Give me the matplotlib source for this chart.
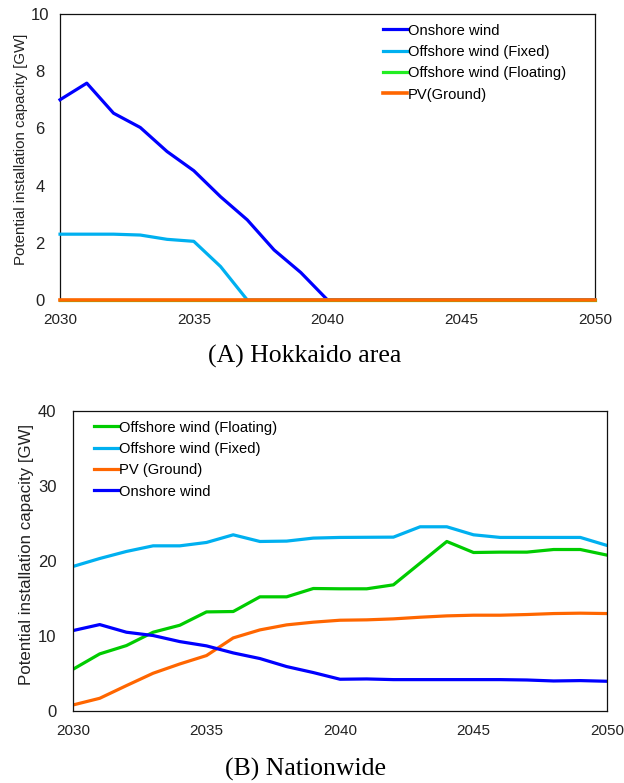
import numpy as np
import matplotlib
matplotlib.use("Agg")
from matplotlib import pyplot as plt

plt.rcParams['font.family'] = ['Liberation Sans', 'DejaVu Sans']

years = np.arange(2030, 2051)

# (A) Hokkaido area, GW
hok_onshore = [7.0, 7.58, 6.53, 6.03, 5.19, 4.52, 3.61, 2.80, 1.75, 0.96, 0.0,
               0, 0, 0, 0, 0, 0, 0, 0, 0, 0]
hok_fixed = [2.30, 2.30, 2.30, 2.27, 2.12, 2.05, 1.17, 0.0, 0, 0, 0,
             0, 0, 0, 0, 0, 0, 0, 0, 0, 0]
hok_floating = [0.0] * 21
hok_pv = [0.0] * 21

# (B) Nationwide, GW
nat_floating = [5.56, 7.61, 8.72, 10.5, 11.43, 13.21, 13.26, 15.22, 15.22, 16.33, 16.29,
                16.29, 16.82, 19.71, 22.6, 21.13, 21.18, 21.18, 21.53, 21.53, 20.78]
nat_fixed = [19.27, 20.33, 21.27, 22.02, 22.02, 22.47, 23.49, 22.60, 22.65, 23.05, 23.14,
             23.16, 23.18, 24.56, 24.56, 23.49, 23.14, 23.14, 23.14, 23.14, 22.07]
nat_pv = [0.8, 1.69, 3.38, 5.03, 6.27, 7.39, 9.74, 10.81, 11.48, 11.84, 12.10,
          12.15, 12.28, 12.50, 12.68, 12.77, 12.77, 12.86, 12.99, 13.04, 12.99]
nat_onshore = [10.72, 11.52, 10.50, 10.06, 9.25, 8.68, 7.74, 6.99, 5.92, 5.12, 4.23,
               4.27, 4.18, 4.18, 4.18, 4.18, 4.18, 4.13, 4.0, 4.05, 3.96]

BLUE = '#0000FF'
LIGHTBLUE = '#00B0F0'
GREEN_A = '#22EE22'
GREEN_B = '#00CC00'
ORANGE = '#FF6600'
LW = 2.3
FS = 10.6

fig = plt.figure(figsize=(6.24, 7.83), dpi=100)


def style_axes(ax, ymax, ystep, yha, ylab_fs, ylab_y, ylab_pad):
    ax.set_xlim(2030, 2050)
    ax.set_ylim(0, ymax)
    ax.set_xticks(range(2030, 2051, 5))
    ax.set_yticks(range(0, ymax + 1, ystep))
    ax.tick_params(length=0, labelsize=11, colors='#222222')
    ax.tick_params(axis='x', pad=9.5)
    ax.tick_params(axis='y', labelsize=12)
    for lab in ax.get_yticklabels():
        lab.set_horizontalalignment(yha)
    for sp in ax.spines.values():
        sp.set_linewidth(0.9)
        sp.set_color('#111111')
    ax.set_ylabel('Potential installation capacity [GW]', fontsize=ylab_fs,
                  color='#222222', labelpad=ylab_pad, y=ylab_y)


def add_legend(ax, x0):
    ax.legend(loc='upper left', bbox_to_anchor=(x0, 1.0), frameon=False,
              fontsize=FS, handlelength=1.65, handletextpad=0.05,
              labelspacing=0.5, borderaxespad=0.25)


# --- (A) Hokkaido area
axa = fig.add_axes([0.0962, 0.6169, 0.8574, 0.3653])
axa.plot(years, hok_onshore, color=BLUE, lw=LW, label='Onshore wind', clip_on=False, zorder=3)
axa.plot(years, hok_fixed, color=LIGHTBLUE, lw=LW, label='Offshore wind (Fixed)', clip_on=False, zorder=3.1)
axa.plot(years, hok_floating, color=GREEN_A, lw=LW, label='Offshore wind (Floating)', clip_on=False, zorder=3.2)
axa.plot(years, hok_pv, color=ORANGE, lw=LW + 0.3, label='PV(Ground)', clip_on=False, zorder=3.3)
style_axes(axa, 10, 2, 'center', 10.8, 0.528, 1.8)
axa.tick_params(axis='y', pad=14.4)
add_legend(axa, 0.585)
fig.text(0.489, 0.545, '(A) Hokkaido area', family='Liberation Serif',
         fontsize=18.5, ha='center', va='center')

# --- (B) Nationwide
axb = fig.add_axes([0.117, 0.092, 0.8558, 0.3831])
axb.plot(years, nat_floating, color=GREEN_B, lw=LW, label='Offshore wind (Floating)')
axb.plot(years, nat_fixed, color=LIGHTBLUE, lw=LW, label='Offshore wind (Fixed)')
axb.plot(years, nat_pv, color=ORANGE, lw=LW, label='PV (Ground)')
axb.plot(years, nat_onshore, color=BLUE, lw=LW, label='Onshore wind')
style_axes(axb, 40, 10, 'right', 12.2, 0.523, 3)
axb.tick_params(axis='y', pad=12)
add_legend(axb, 0.022)
fig.text(0.490, 0.017, '(B) Nationwide', family='Liberation Serif',
         fontsize=18.5, ha='center', va='center')

fig.savefig('out.png', dpi=100)
